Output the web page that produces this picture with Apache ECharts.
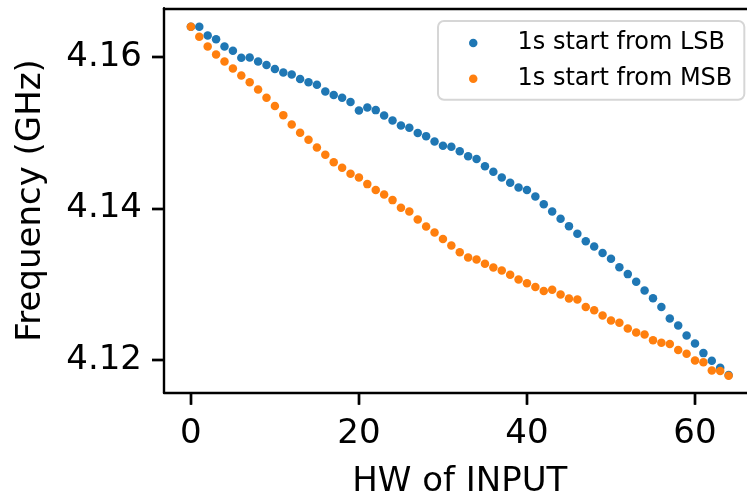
<!DOCTYPE html>
<html>
<head>
<meta charset="utf-8">
<script src="https://cdn.jsdelivr.net/npm/echarts@6/dist/echarts.min.js"></script>
<style>
  html, body { margin: 0; padding: 0; background: #fff; }
  #chart { width: 747px; height: 493px; }
</style>
</head>
<body>
<div id="chart"></div>
<script>
// HW of input (x values)
var hw = [0, 1, 2, 3, 4, 5, 6, 7, 8, 9, 10, 11, 12, 13, 14, 15, 16, 17, 18, 19,
    20, 21, 22, 23, 24, 25, 26, 27, 28, 29, 30, 31, 32, 33, 34, 35, 36, 37, 38, 39,
    40, 41, 42, 43, 44, 45, 46, 47, 48, 49, 50, 51, 52, 53, 54, 55, 56, 57, 58, 59,
    60, 61, 62, 63, 64];

// frequency (GHz), 1s start from LSB
var freqLsb = [4.16396, 4.16396, 4.16282, 4.16233, 4.16137, 4.16079, 4.15987, 4.15992, 4.15939, 4.15891,
    4.15838, 4.15794, 4.15768, 4.15706, 4.15666, 4.15631, 4.15544, 4.15495, 4.15459, 4.15403,
    4.15293, 4.15333, 4.15297, 4.15227, 4.15161, 4.15095, 4.15064, 4.14994, 4.14954, 4.14884,
    4.14826, 4.14813, 4.14756, 4.14690, 4.14651, 4.14558, 4.14483, 4.14409, 4.14338, 4.14275,
    4.14242, 4.14159, 4.14057, 4.13961, 4.13863, 4.13767, 4.13666, 4.13569, 4.13499, 4.13411,
    4.13336, 4.13226, 4.13134, 4.13032, 4.12919, 4.12817, 4.12699, 4.12550, 4.12457, 4.12325,
    4.12220, 4.12092, 4.11990, 4.11898, 4.11802];

// frequency (GHz), 1s start from MSB
var freqMsb = [4.16396, 4.16264, 4.16137, 4.16032, 4.15939, 4.15847, 4.15755, 4.15666, 4.15570, 4.15459,
    4.15350, 4.15231, 4.15108, 4.14998, 4.14905, 4.14805, 4.14707, 4.14611, 4.14536, 4.14457,
    4.14409, 4.14321, 4.14242, 4.14185, 4.14110, 4.14008, 4.13961, 4.13855, 4.13763, 4.13684,
    4.13596, 4.13513, 4.13424, 4.13354, 4.13328, 4.13270, 4.13222, 4.13183, 4.13125, 4.13064,
    4.13015, 4.12963, 4.12910, 4.12927, 4.12866, 4.12813, 4.12800, 4.12699, 4.12659, 4.12589,
    4.12523, 4.12492, 4.12418, 4.12365, 4.12339, 4.12263, 4.12228, 4.12211, 4.12132, 4.12083,
    4.11996, 4.11973, 4.11864, 4.11855, 4.11793];

var xTicks = [0, 20, 40, 60];
var yTicks = [4.12, 4.14, 4.16];

var FONT = 'DejaVu Sans';
var X_MIN = -3.2, X_MAX = 67.2;
var Y_MIN = 4.1157, Y_MAX = 4.1664;

function pairs(xs, ys) {
    return xs.map(function (x, i) {
        return [x, ys[i]];
    });
}

function spine() {
    return { show: true, onZero: false, lineStyle: { color: '#000', width: 2.4 } };
}

function tickStyle(values) {
    return { show: true, length: 12, customValues: values, lineStyle: { color: '#000', width: 2.4 } };
}

var chart = echarts.init(document.getElementById('chart'));
chart.setOption({
    animation: false,
    grid: { left: 164, top: 8.3, bottom: 100.3, right: -8.5, outerBoundsMode: 'none', show: false },
    legend: {
        left: 438,
        top: 21,
        orient: 'vertical',
        icon: 'circle',
        itemWidth: 8.5,
        itemHeight: 8.5,
        itemGap: 11.7,
        padding: [10, 12, 9, 31],
        backgroundColor: '#fff',
        borderColor: '#d6d6d6',
        borderWidth: 2,
        borderRadius: 6,
        formatter: function (name) {
            return '{t|' + name + '}';
        },
        textStyle: {
            fontFamily: FONT,
            fontSize: 24,
            color: '#000',
            rich: {
                t: { fontFamily: FONT, fontSize: 24, color: '#000', padding: [0, 0, 0, 35] }
            }
        },
        data: ['1s start from LSB', '1s start from MSB']
    },
    xAxis: [{
        type: 'value', min: X_MIN, max: X_MAX,
        position: 'bottom',
        name: 'HW of INPUT',
        nameLocation: 'middle',
        nameGap: 72,
        nameTextStyle: { fontFamily: FONT, fontSize: 34, color: '#000' },
        axisLine: spine(),
        splitLine: { show: false },
        axisTick: tickStyle(xTicks),
        axisLabel: { customValues: xTicks, margin: 24, fontFamily: FONT, fontSize: 34, color: '#000' }
    }, {
        // top spine only
        type: 'value', min: X_MIN, max: X_MAX,
        position: 'top',
        axisLine: spine(),
        axisTick: { show: false },
        axisLabel: { show: false },
        splitLine: { show: false }
    }, {
        // tick marks only
        type: 'value', min: X_MIN, max: X_MAX,
        position: 'bottom',
        axisLine: { show: false, onZero: false },
        axisTick: tickStyle(xTicks),
        axisLabel: { show: false },
        splitLine: { show: false }
    }],
    yAxis: [{
        type: 'value', min: Y_MIN, max: Y_MAX,
        position: 'left',
        name: 'Frequency (GHz)',
        nameLocation: 'middle',
        nameGap: 116,
        nameTextStyle: { fontFamily: FONT, fontSize: 34, color: '#000' },
        axisLine: spine(),
        splitLine: { show: false },
        axisTick: tickStyle(yTicks),
        axisLabel: {
            customValues: yTicks,
            margin: 22,
            fontFamily: FONT,
            fontSize: 34,
            color: '#000',
            formatter: function (v) {
                return v.toFixed(2);
            }
        }
    }, {
        // tick marks only
        type: 'value', min: Y_MIN, max: Y_MAX,
        position: 'left',
        axisLine: { show: false, onZero: false },
        axisTick: tickStyle(yTicks),
        axisLabel: { show: false },
        splitLine: { show: false }
    }],
    series: [{
        name: '1s start from LSB',
        type: 'scatter',
        symbolSize: 8.5,
        itemStyle: { color: '#1f77b4', opacity: 1 },
        data: pairs(hw, freqLsb)
    }, {
        name: '1s start from MSB',
        type: 'scatter',
        symbolSize: 8.5,
        itemStyle: { color: '#ff7f0e', opacity: 1 },
        data: pairs(hw, freqMsb)
    }]
});
</script>
</body>
</html>
